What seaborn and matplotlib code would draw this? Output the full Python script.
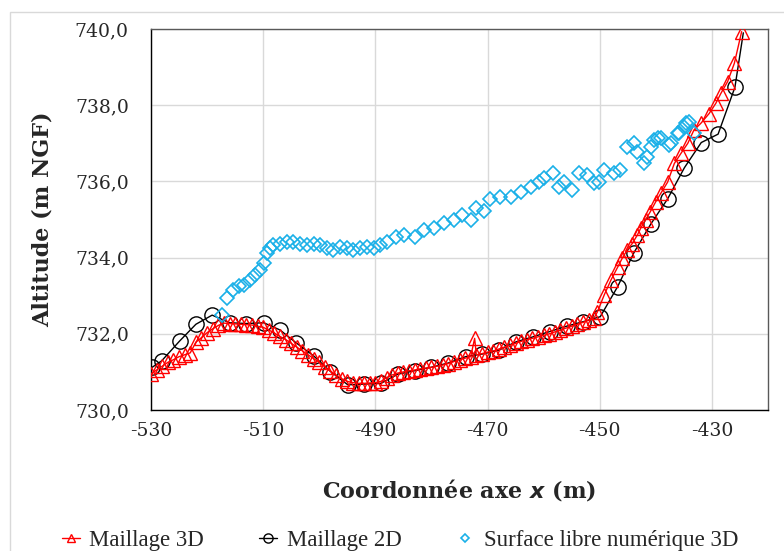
import matplotlib
matplotlib.use("Agg")
import matplotlib.pyplot as plt
import matplotlib.ticker as mticker
from matplotlib.patches import Rectangle
import seaborn as sns
import pandas as pd

# Maillage 3D (triangles)
x_3d = [-530, -529, -528, -527, -526, -525, -524, -523, -522, -521, -520, -519, -518, -517,
        -516, -515, -514, -513, -512, -511, -510, -509, -508, -507, -506, -505, -504, -503,
        -502, -501, -500, -499, -498, -497, -496, -495, -494, -493, -492, -491, -490, -489,
        -488, -487, -486, -485, -484, -483, -482, -481, -480, -479, -478, -477, -476, -475,
        -474, -473, -472.3, -472, -471, -470, -469, -468, -467, -466, -465, -464, -463, -462,
        -461, -460, -459, -458, -457, -456, -455, -454, -453, -452, -451, -450.4, -449.2,
        -448.0, -446.8, -446.0, -445.1, -444.2, -443.3, -442.7, -441.8, -441.0, -440.0,
        -439.1, -437.9, -436.7, -435.5, -434.3, -433.2, -432.0, -430.5, -429.3, -428.4,
        -427.2, -426.0, -424.7]
y_3d = [730.95, 731.05, 731.15, 731.25, 731.32, 731.40, 731.45, 731.50, 731.78, 731.90, 732.03,
        732.13, 732.22, 732.28, 732.27, 732.26, 732.25, 732.24, 732.23, 732.20, 732.17, 732.10,
        732.02, 731.93, 731.85, 731.75, 731.65, 731.55, 731.45, 731.35, 731.25, 731.13, 731.02,
        730.92, 730.82, 730.75, 730.72, 730.70, 730.70, 730.71, 730.72, 730.75, 730.85, 730.92,
        730.97, 731.00, 731.03, 731.05, 731.08, 731.10, 731.12, 731.15, 731.18, 731.22, 731.27,
        731.32, 731.36, 731.40, 731.88, 731.45, 731.48, 731.52, 731.55, 731.60, 731.65, 731.70,
        731.75, 731.80, 731.85, 731.88, 731.92, 731.96, 732.00, 732.05, 732.10, 732.15, 732.20,
        732.25, 732.30, 732.36, 732.42, 732.58, 733.02, 733.41, 733.75, 733.98, 734.20, 734.37,
        734.59, 734.77, 735.00, 735.20, 735.47, 735.69, 735.98, 736.47, 736.74, 737.00, 737.35,
        737.52, 737.78, 738.05, 738.31, 738.62, 739.10, 739.93]

# Maillage 2D (cercles)
x_2d = [-529.8, -528.1, -524.9, -522.0, -519.1, -516.0, -513.0, -509.9, -507.0, -504.1,
        -501.0, -498.0, -494.9, -492.0, -489.0, -486.0, -483.0, -480.1, -477.1, -473.9,
        -470.9, -468.0, -464.9, -461.9, -458.9, -455.9, -452.9, -449.9, -446.8, -443.9,
        -440.9, -437.9, -434.9, -431.9, -428.9, -425.9, -424.4]
y_2d = [731.12, 731.29, 731.81, 732.25, 732.49, 732.29, 732.27, 732.29, 732.10, 731.76,
        731.42, 731.01, 730.66, 730.68, 730.70, 730.94, 731.03, 731.12, 731.23, 731.40,
        731.47, 731.57, 731.79, 731.92, 732.06, 732.20, 732.32, 732.45, 733.24, 734.13,
        734.88, 735.54, 736.36, 737.02, 737.24, 738.47, 739.90]

# Surface libre numérique 3D (losanges)
x_sl = [-517.4, -516.5, -515.3, -514.4, -513.5, -512.3, -511.4, -510.5, -509.9, -509.3,
        -508.8, -508.2, -507.0, -505.8, -504.6, -503.4, -502.2, -501.0, -499.8, -498.6,
        -497.5, -496.3, -495.1, -493.9, -492.7, -491.5, -490.3, -489.1, -487.9, -486.4,
        -484.9, -482.9, -481.4, -479.6, -477.8, -476.0, -474.5, -473.0, -472.1, -470.6,
        -469.5, -467.7, -465.9, -464.1, -462.3, -460.8, -460.0, -458.4, -457.3, -456.4,
        -454.9, -453.7, -452.2, -451.0, -450.1, -449.2, -447.5, -446.3, -445.1, -443.9,
        -443.3, -442.1, -441.5, -440.9, -440.3, -439.7, -439.1, -437.6, -437.3, -436.1,
        -435.8, -434.9, -434.6, -434.0, -433.2]
y_sl = [732.50, 732.93, 733.15, 733.25, 733.28, 733.41, 733.54, 733.67, 733.85, 734.11,
        734.24, 734.33, 734.37, 734.42, 734.42, 734.37, 734.33, 734.37, 734.33, 734.24,
        734.20, 734.29, 734.24, 734.20, 734.24, 734.29, 734.24, 734.33, 734.42, 734.55,
        734.59, 734.55, 734.72, 734.79, 734.90, 734.99, 735.12, 734.99, 735.29, 735.21,
        735.53, 735.60, 735.58, 735.73, 735.86, 735.99, 736.08, 736.23, 735.86, 735.99,
        735.77, 736.21, 736.17, 735.95, 735.99, 736.30, 736.21, 736.30, 736.91, 737.00,
        736.78, 736.47, 736.65, 736.91, 737.09, 737.13, 737.13, 736.96, 737.00, 737.26,
        737.26, 737.44, 737.52, 737.57, 737.26]

df3 = pd.DataFrame({"x": x_3d, "y": y_3d})
df2 = pd.DataFrame({"x": x_2d, "y": y_2d})
dfs = pd.DataFrame({"x": x_sl, "y": y_sl})

sns.set_style("white")
plt.rcParams["font.family"] = ["DejaVu Serif"]

fig = plt.figure(figsize=(7.84, 5.51), dpi=100)
ax = fig.add_axes([151 / 784, 1 - 410 / 551, 617 / 784, 381 / 551])

sns.lineplot(data=df3, x="x", y="y", sort=False, estimator=None, ax=ax, color="#ff0000",
             lw=1, marker="^", ms=10.5, mfc="none", mec="#ff0000", mew=1,
             label="Maillage 3D", zorder=3)
# last point of the 2D mesh has no visible marker (hidden under the top triangle)
sns.lineplot(data=df2, x="x", y="y", sort=False, estimator=None, ax=ax, color="black",
             lw=1, marker="o", ms=11, mfc="none", mec="black", mew=1,
             markevery=list(range(len(x_2d) - 1)), label="Maillage 2D", zorder=2)
sns.lineplot(data=dfs, x="x", y="y", sort=False, estimator=None, ax=ax, color="#1ab0e8",
             lw=0, marker="D", ms=7, mfc="none", mec="#1ab0e8", mew=1.2,
             label="Surface libre numérique 3D", zorder=4)

ax.set_xlim(-530, -420)
ax.set_ylim(730, 740)
ax.xaxis.set_major_locator(mticker.FixedLocator([-530, -510, -490, -470, -450, -430]))
ax.xaxis.set_minor_locator(mticker.MultipleLocator(5))
ax.yaxis.set_major_locator(mticker.MultipleLocator(2))
ax.yaxis.set_minor_locator(mticker.MultipleLocator(0.5))
ax.yaxis.set_major_formatter(mticker.FuncFormatter(lambda v, p: f"{v:.1f}".replace(".", ",")))
ax.xaxis.set_major_formatter(mticker.FuncFormatter(lambda v, p: f"{v:.0f}"))
ax.tick_params(which="both", direction="in", length=5, width=1, labelsize=13.5, color="black")
ax.tick_params(axis="x", pad=9)
ax.tick_params(axis="y", pad=16)
ax.grid(True, which="major", color="#d9d9d9", lw=1)
ax.set_axisbelow(True)
for side in ax.spines:
    ax.spines[side].set_visible(True)
    ax.spines[side].set_linewidth(1)
ax.spines["left"].set_color("black")
ax.spines["bottom"].set_color("black")
ax.spines["top"].set_color("#595959")
ax.spines["right"].set_color("#595959")

ax.set_ylabel("Altitude (m NGF)", fontsize=16, fontweight="bold", labelpad=15)
ax.set_xlabel("Coordonnée axe $\\boldsymbol{x}$ (m)", fontsize=16, fontweight="bold", labelpad=26)

leg = ax.legend(loc="center", bbox_to_anchor=(400 / 784, 1 - 540 / 551), bbox_transform=fig.transFigure,
                ncol=3, frameon=False, prop={"family": "Liberation Serif", "size": 16.5},
                handlelength=0.8, handletextpad=0.4, columnspacing=2.4, markerscale=0.6,
                borderaxespad=0, borderpad=0)

fig.patches.append(Rectangle((10 / 784, -0.1), 1.2, 1 - 12 / 551 + 0.1, transform=fig.transFigure,
                             fill=False, edgecolor="#d9d9d9", lw=1))

fig.savefig("out.png", dpi=100)
